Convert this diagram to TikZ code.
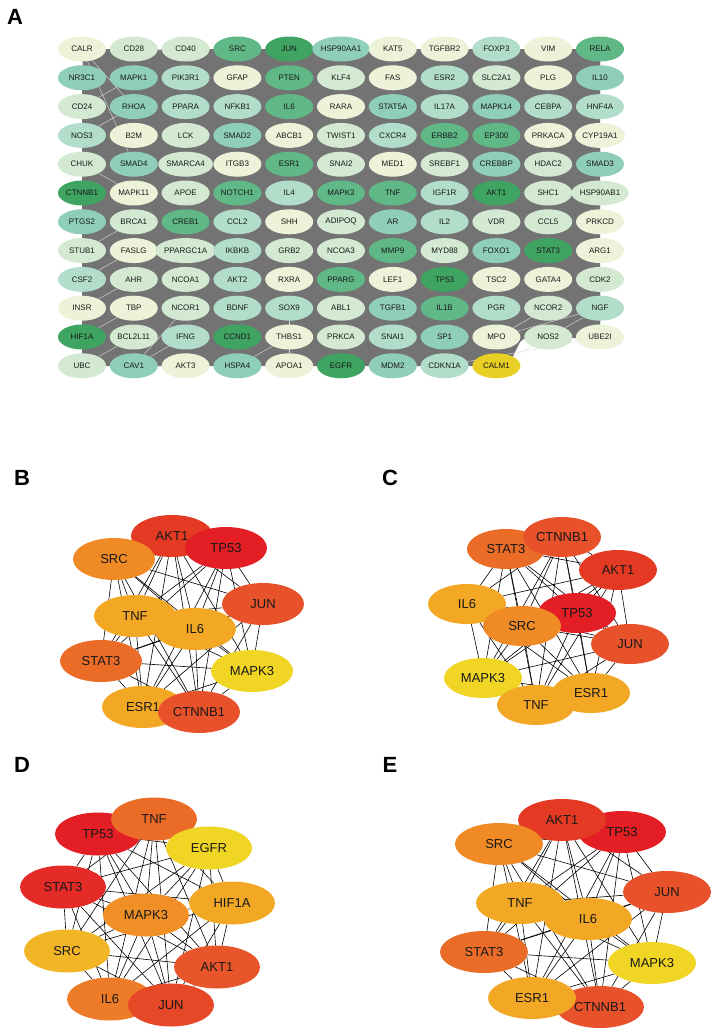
\documentclass[tikz,border=0pt]{standalone}
\usepackage{fontspec}
\setmainfont{Liberation Sans}
\usetikzlibrary{shapes.geometric,backgrounds}

% degree shades, panel A
\definecolor{lv0}{HTML}{EDF3D8}
\definecolor{lv1}{HTML}{D3E9D2}
\definecolor{lv2}{HTML}{B2DDCB}
\definecolor{lv3}{HTML}{8FCEB9}
\definecolor{lv4}{HTML}{60B887}
\definecolor{lv5}{HTML}{3FA462}
\definecolor{lv6}{HTML}{E8CF24}
% hub shades, panels B--E
\definecolor{rk1}{HTML}{E31E25}
\definecolor{rk2}{HTML}{E43A24}
\definecolor{rk3}{HTML}{E7522A}
\definecolor{rk4}{HTML}{EB6C27}
\definecolor{rk5}{HTML}{EF8A25}
\definecolor{rk6}{HTML}{F2A725}
\definecolor{rk7}{HTML}{F0D525}
\definecolor{rkd2}{HTML}{E42B27}
\definecolor{rkd4}{HTML}{E64727}
\definecolor{rkd5}{HTML}{E8552A}
\definecolor{rkd6}{HTML}{ED7B27}
\definecolor{rkd7}{HTML}{EF8F26}
\definecolor{rkd9}{HTML}{F2B526}

\begin{document}
\begin{tikzpicture}[x=1pt,y=-1pt,
    gene/.style={ellipse,minimum width=48pt,minimum height=25pt,inner sep=0pt,text=black!90,font=\fontsize{8}{8}\selectfont},
    hub/.style={ellipse,minimum width=82pt,minimum height=42pt,inner sep=0pt,text=black!90,font=\fontsize{13}{13}\selectfont},
    panel/.style={font=\fontsize{22}{22}\selectfont\bfseries},
    link/.style={black,line width=0.6pt},
    mass/.style={fill=black!55},
    streak/.style={white!75!gray,line width=0.4pt}]
    \useasboundingbox (0,0) rectangle (714,1036);

    % panel labels
    \node[panel] (labA) at (15,17) {A};
    \node[panel] (labB) at (22,478) {B};
    \node[panel] (labC) at (390,478) {C};
    \node[panel] (labD) at (22,765) {D};
    \node[panel] (labE) at (390,765) {E};

    % A: whole network, 11 per row
    \foreach \g/\lv [count=\i from 0] in {
        CALR/0, CD28/1, CD40/1, SRC/4, JUN/5, HSP90AA1/3, KAT5/0, TGFBR2/0, FOXP3/2, VIM/0, RELA/4,
        NR3C1/3, MAPK1/3, PIK3R1/2, GFAP/0, PTEN/4, KLF4/1, FAS/0, ESR2/2, SLC2A1/1, PLG/0, IL10/3,
        CD24/1, RHOA/3, PPARA/2, NFKB1/2, IL6/4, RARA/0, STAT5A/3, IL17A/2, MAPK14/3, CEBPA/2, HNF4A/2,
        NOS3/2, B2M/0, LCK/1, SMAD2/3, ABCB1/0, TWIST1/1, CXCR4/2, ERBB2/4, EP300/4, PRKACA/0, CYP19A1/0,
        CHUK/1, SMAD4/3, SMARCA4/1, ITGB3/0, ESR1/4, SNAI2/1, MED1/0, SREBF1/1, CREBBP/3, HDAC2/1, SMAD3/3,
        CTNNB1/5, MAPK11/0, APOE/1, NOTCH1/4, IL4/2, MAPK3/4, TNF/4, IGF1R/2, AKT1/5, SHC1/1, HSP90AB1/1,
        PTGS2/3, BRCA1/1, CREB1/4, CCL2/2, SHH/0, ADIPOQ/1, AR/3, IL2/2, VDR/1, CCL5/1, PRKCD/0,
        STUB1/1, FASLG/0, PPARGC1A/1, IKBKB/2, GRB2/1, NCOA3/1, MMP9/4, MYD88/1, FOXO1/3, STAT3/5, ARG1/0,
        CSF2/2, AHR/1, NCOA1/1, AKT2/2, RXRA/0, PPARG/4, LEF1/0, TP53/5, TSC2/0, GATA4/0, CDK2/1,
        INSR/0, TBP/0, NCOR1/1, BDNF/2, SOX9/2, ABL1/1, TGFB1/3, IL1B/4, PGR/2, NCOR2/1, NGF/2,
        HIF1A/5, BCL2L11/1, IFNG/2, CCND1/5, THBS1/0, PRKCA/1, SNAI1/2, SP1/3, MPO/0, NOS2/1, UBE2I/0,
        UBC/1, CAV1/3, AKT3/0, HSPA4/3, APOA1/0, EGFR/5, MDM2/3, CDKN1A/2, CALM1/6} {
        \pgfmathtruncatemacro\col{mod(\i,11)}
        \pgfmathtruncatemacro\row{div(\i,11)}
        \node[gene,fill=lv\lv] (a-\g) at (82+51.8*\col,49+28.8*\row) {\g};
    }

    % B
    \node[hub,fill=rk2] (b-AKT1) at (172,536) {AKT1};
    \node[hub,fill=rk5] (b-SRC) at (114,559) {SRC};
    \node[hub,fill=rk1] (b-TP53) at (226,548) {TP53};
    \node[hub,fill=rk3] (b-JUN) at (263,604) {JUN};
    \node[hub,fill=rk6] (b-TNF) at (135,616) {TNF};
    \node[hub,fill=rk6] (b-IL6) at (195,629) {IL6};
    \node[hub,fill=rk4] (b-STAT3) at (101,661) {STAT3};
    \node[hub,fill=rk7] (b-MAPK3) at (252,671) {MAPK3};
    \node[hub,fill=rk6] (b-ESR1) at (143,707) {ESR1};
    \node[hub,fill=rk3] (b-CTNNB1) at (199,712) {CTNNB1};

    % C
    \begin{scope}[hub/.append style={minimum width=78pt,minimum height=40pt}]
    \node[hub,fill=rk4] (c-STAT3) at (506,549) {STAT3};
    \node[hub,fill=rk3] (c-CTNNB1) at (562,537) {CTNNB1};
    \node[hub,fill=rk2] (c-AKT1) at (618,570) {AKT1};
    \node[hub,fill=rk6] (c-IL6) at (467,604) {IL6};
    \node[hub,fill=rk1] (c-TP53) at (577,613) {TP53};
    \node[hub,fill=rk5] (c-SRC) at (522,626) {SRC};
    \node[hub,fill=rk3] (c-JUN) at (630,644) {JUN};
    \node[hub,fill=rk7] (c-MAPK3) at (483,678) {MAPK3};
    \node[hub,fill=rk6] (c-TNF) at (536,705) {TNF};
    \node[hub,fill=rk6] (c-ESR1) at (591,693) {ESR1};
    \end{scope}

    % D
    \begin{scope}[hub/.append style={minimum width=86pt,minimum height=43pt}]
    \node[hub,fill=rk1] (d-TP53) at (98,834) {TP53};
    \node[hub,fill=rk4] (d-TNF) at (154,819) {TNF};
    \node[hub,fill=rk7] (d-EGFR) at (209,848) {EGFR};
    \node[hub,fill=rkd2] (d-STAT3) at (63,887) {STAT3};
    \node[hub,fill=rk6] (d-HIF1A) at (232,903) {HIF1A};
    \node[hub,fill=rkd7] (d-MAPK3) at (146,915) {MAPK3};
    \node[hub,fill=rkd9] (d-SRC) at (67,951) {SRC};
    \node[hub,fill=rkd5] (d-AKT1) at (217,967) {AKT1};
    \node[hub,fill=rkd6] (d-IL6) at (110,999) {IL6};
    \node[hub,fill=rkd4] (d-JUN) at (171,1005) {JUN};
    \end{scope}

    % E
    \begin{scope}[hub/.append style={minimum width=88pt,minimum height=42pt}]
    \node[hub,fill=rk1] (e-TP53) at (622,832) {TP53};
    \node[hub,fill=rk2] (e-AKT1) at (562,820) {AKT1};
    \node[hub,fill=rk5] (e-SRC) at (499,844) {SRC};
    \node[hub,fill=rk3] (e-JUN) at (667,892) {JUN};
    \node[hub,fill=rk6] (e-TNF) at (520,903) {TNF};
    \node[hub,fill=rk6] (e-IL6) at (588,919) {IL6};
    \node[hub,fill=rk4] (e-STAT3) at (484,952) {STAT3};
    \node[hub,fill=rk7] (e-MAPK3) at (652,963) {MAPK3};
    \node[hub,fill=rk3] (e-CTNNB1) at (600,1007) {CTNNB1};
    \node[hub,fill=rk6] (e-ESR1) at (532,998) {ESR1};
    \end{scope}

    \begin{scope}[on background layer]
    % dense edge mass behind the grid
    \fill[mass,rounded corners=6pt] (82,49) -- (600,49) -- (600,338) -- (522,338)
        -- (508,366) -- (82,366) -- cycle;
    \foreach \u/\v in {CALR/SMAD4, CALR/RHOA, CD24/MAPK1, NOS3/RHOA, CHUK/MAPK11,
        STUB1/BRCA1, CSF2/FASLG, INSR/AHR, HIF1A/TBP, UBC/BCL2L11, CAV1/IFNG,
        CAV1/NCOR1, HSPA4/THBS1, APOA1/SOX9, MPO/NCOR2, MPO/NGF, CALM1/NOS2,
        CDKN1A/UBE2I, NOS2/NGF, UBE2I/CDK2, HSP90AB1/PRKCD, SMAD3/CYP19A1,
        RELA/HNF4A, IL10/HNF4A, CD28/CD40, CALR/NR3C1}
        \draw[streak] (a-\u) -- (a-\v);
    % hub networks
    \foreach \p/\list in {b/{AKT1,SRC,TP53,JUN,TNF,IL6,STAT3,MAPK3,ESR1,CTNNB1},
        c/{STAT3,CTNNB1,AKT1,IL6,TP53,SRC,JUN,MAPK3,TNF,ESR1},
        d/{TP53,TNF,EGFR,STAT3,HIF1A,MAPK3,SRC,AKT1,IL6,JUN},
        e/{TP53,AKT1,SRC,JUN,TNF,IL6,STAT3,MAPK3,CTNNB1,ESR1}}
        \foreach \u [count=\i] in \list
            \foreach \v [count=\j] in \list
                {\ifnum\j>\i \draw[link] (\p-\u) -- (\p-\v);\fi}
    \end{scope}
\end{tikzpicture}
\end{document}
